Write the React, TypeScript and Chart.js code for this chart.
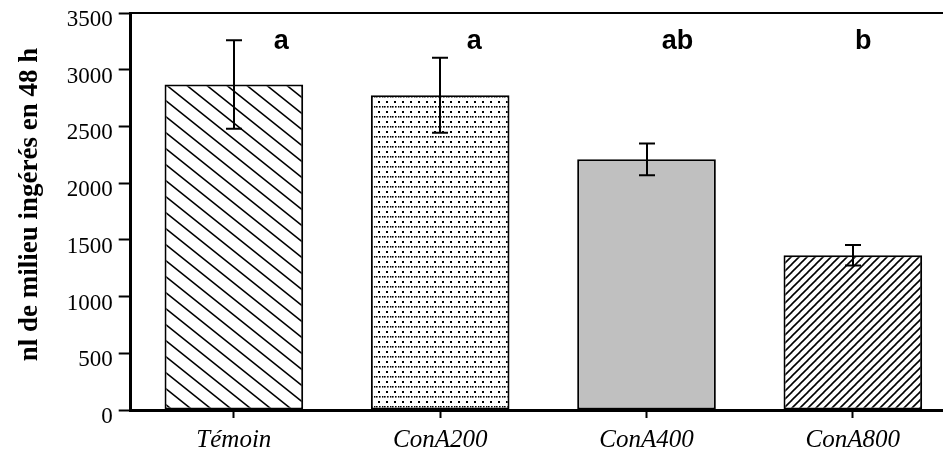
import React, { useEffect, useRef } from "react";
import { Chart, registerables } from "chart.js";

Chart.register(...registerables);

const categories = ["Témoin", "ConA200", "ConA400", "ConA800"];
const means = [2870, 2775, 2210, 1365];
const errors = [390, 330, 140, 90];
const letters = ["a", "a", "ab", "b"];
const yTicks = [0, 500, 1000, 1500, 2000, 2500, 3000, 3500];
const yTitle = "nl de milieu ingérés en 48 h";

// horizontal offsets of the significance letters, as a fraction of the category width
const letterShift = [0.23, 0.165, 0.15, 0.05];
const serif = "'Liberation Serif', 'Times New Roman', serif";

function makeCanvas(w: number, h: number) {
  const c = document.createElement("canvas");
  c.width = w;
  c.height = h;
  return c;
}

function backslashPattern(ctx: CanvasRenderingContext2D) {
  const w = 20, h = 16;
  const c = makeCanvas(w, h);
  const g = c.getContext("2d")!;
  g.fillStyle = "#fff";
  g.fillRect(0, 0, w, h);
  g.strokeStyle = "#000";
  g.lineWidth = 1.6;
  for (let k = -1; k <= 1; k++) {
    g.beginPath();
    g.moveTo(-w, -h + k * h);
    g.lineTo(2 * w, 2 * h + k * h);
    g.stroke();
  }
  return ctx.createPattern(c, "repeat")!;
}

function slashPattern(ctx: CanvasRenderingContext2D) {
  const w = 8, h = 8;
  const c = makeCanvas(w, h);
  const g = c.getContext("2d")!;
  g.fillStyle = "#fff";
  g.fillRect(0, 0, w, h);
  g.strokeStyle = "#000";
  g.lineWidth = 1.6;
  for (let k = -1; k <= 1; k++) {
    g.beginPath();
    g.moveTo(-w + k * w, 2 * h);
    g.lineTo(2 * w + k * w, -h);
    g.stroke();
  }
  return ctx.createPattern(c, "repeat")!;
}

function dotPattern(ctx: CanvasRenderingContext2D) {
  const w = 8, h = 10;
  const c = makeCanvas(w, h);
  const g = c.getContext("2d")!;
  g.fillStyle = "#fff";
  g.fillRect(0, 0, w, h);
  g.fillStyle = "#000";
  g.fillRect(2, 1, 2, 2);
  g.fillRect(0, 6, 1.6, 1.6);
  g.fillRect(3, 6, 1.6, 1.6);
  g.fillRect(6, 6, 1.4, 1.6);
  return ctx.createPattern(c, "repeat")!;
}

const overlayPlugin = {
  id: "overlay",
  afterDatasetsDraw(chart: any) {
    const ctx = chart.ctx as CanvasRenderingContext2D;
    const area = chart.chartArea;
    const y = chart.scales.y;
    const x = chart.scales.x;
    const meta = chart.getDatasetMeta(0);
    ctx.save();
    // top frame line
    ctx.strokeStyle = "#000";
    ctx.lineWidth = 2;
    ctx.beginPath();
    ctx.moveTo(area.left, area.top);
    ctx.lineTo(area.right + 5, area.top);
    ctx.stroke();
    // error bars
    ctx.lineWidth = 2;
    meta.data.forEach((bar: any, i: number) => {
      const cx = Math.round(bar.x);
      const top = y.getPixelForValue(means[i] + errors[i]);
      const bot = y.getPixelForValue(means[i] - errors[i]);
      ctx.beginPath();
      ctx.moveTo(cx, top);
      ctx.lineTo(cx, bot);
      ctx.moveTo(cx - 8, top);
      ctx.lineTo(cx + 8, top);
      ctx.moveTo(cx - 8, bot);
      ctx.lineTo(cx + 8, bot);
      ctx.stroke();
    });
    // letters
    const catW = (area.right - area.left) / categories.length;
    ctx.fillStyle = "#000";
    ctx.font = "bold 27px 'Liberation Sans', Arial, sans-serif";
    ctx.textAlign = "center";
    ctx.textBaseline = "middle";
    letters.forEach((l, i) => {
      const cx = x.getPixelForValue(i) + letterShift[i] * catW;
      ctx.fillText(l, cx, area.top + 29);
    });
    // y axis title (drawn slightly above the axis centre, as in the original)
    ctx.font = `bold 27px ${serif}`;
    ctx.translate(y.left + 15 + 15, (area.top + area.bottom) / 2 - 7);
    ctx.rotate(-Math.PI / 2);
    ctx.fillText(yTitle, 0, 0);
    ctx.restore();
  },
};

export default function App() {
  const ref = useRef<HTMLCanvasElement>(null);
  useEffect(() => {
    const canvas = ref.current!;
    const ctx = canvas.getContext("2d")!;
    const fills = [backslashPattern(ctx), dotPattern(ctx), "#c0c0c0", slashPattern(ctx)];
    const chart = new Chart(canvas, {
      type: "bar",
      data: {
        labels: categories,
        datasets: [
          {
            data: means,
            backgroundColor: fills as any,
            borderColor: "#000",
            borderWidth: 2,
            borderSkipped: false,
            barPercentage: 0.672,
            categoryPercentage: 1,
          },
        ],
      },
      options: {
        animation: false,
        responsive: false,
        devicePixelRatio: 1,
        layout: { padding: { left: 0, right: 4, top: 13, bottom: 0 } },
        plugins: { legend: { display: false }, tooltip: { enabled: false } },
        scales: {
          x: {
            grid: {
              offset: false,
              drawOnChartArea: false,
              drawTicks: true,
              tickLength: 8,
              tickWidth: 2,
              tickColor: "#000",
            },
            border: { display: true, color: "#000", width: 3 },
            ticks: {
              color: "#000",
              padding: 9.5,
              font: { family: serif, size: 25, style: "italic", lineHeight: 1 },
            },
          },
          y: {
            min: 0,
            max: 3500,
            afterBuildTicks: (scale: any) => {
              scale.ticks = yTicks.map((v) => ({ value: v }));
            },
            grid: {
              drawOnChartArea: false,
              drawTicks: true,
              tickLength: 12,
              tickWidth: 2,
              tickColor: "#000",
            },
            border: { display: true, color: "#000", width: 3 },
            ticks: {
              color: "#000",
              padding: 6,
              labelOffset: 7,
              callback: (v: any) => String(v),
              font: { family: serif, size: 23, lineHeight: 0.6 },
            },
            title: {
              display: true,
              text: yTitle,
              color: "rgba(0,0,0,0)",
              padding: { top: 15, bottom: 16 },
              font: { family: serif, size: 27, weight: "bold", lineHeight: 1.1 },
            },
          },
        },
      },
      plugins: [overlayPlugin],
    });
    return () => chart.destroy();
  }, []);
  return (
    <div style={{ position: "fixed", left: 0, top: 0, width: "100vw", height: "100vh", overflow: "hidden", background: "#fff" }}>
      <canvas ref={ref} width={960} height={462} style={{ display: "block", width: 960, height: 462 }} />
    </div>
  );
}
